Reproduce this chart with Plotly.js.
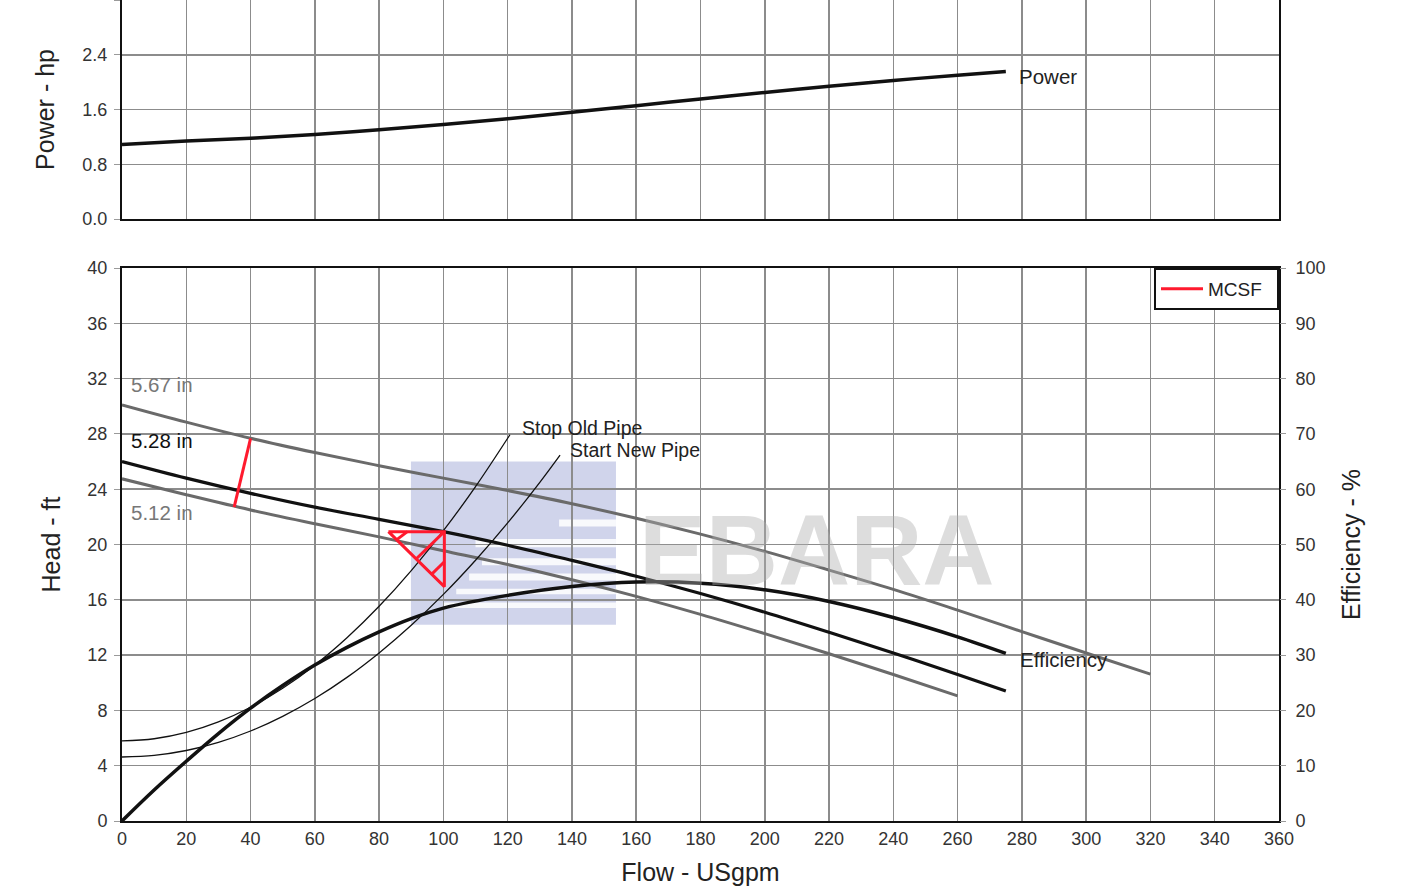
<!DOCTYPE html>
<html>
<head>
<meta charset="utf-8">
<script src="https://cdn.plot.ly/plotly-3.0.1.min.js"></script>
<style>html,body{margin:0;padding:0;background:#fff;}#chart{width:1411px;height:895px;}</style>
</head>
<body>
<div id="chart"></div>
<script>
// ---- data ----
const flow567 = [0,20,40,60,80,100,120,140,160,180,200,220,240,260,280,300,320];
const head567 = [30.1,28.85,27.68,26.65,25.7,24.8,23.9,22.95,21.9,20.75,19.5,18.15,16.75,15.25,13.7,12.15,10.62];

const flow528 = [0,20,40,60,80,100,120,140,160,180,200,220,240,260,275];
const head528 = [26.0,24.8,23.7,22.7,21.82,20.93,19.95,18.85,17.7,16.45,15.1,13.65,12.15,10.6,9.4];

const flow512 = [0,20,40,60,80,100,120,140,160,180,200,220,240,260];
const head512 = [24.75,23.6,22.5,21.5,20.55,19.55,18.55,17.45,16.25,14.95,13.55,12.1,10.6,9.05];

const flowEff = [0,10,20,30,40,50,60,70,80,90,100,120,140,160,180,200,220,240,260,275];
const effPct  = [0,5.6,10.8,15.8,20.4,24.5,28.2,31.4,34.2,36.6,38.5,40.8,42.4,43.2,43.0,41.8,39.7,36.8,33.3,30.3];

const flowPow = [0,20,40,60,80,100,120,140,160,180,200,220,240,260,275];
const powerHp = [1.09,1.14,1.18,1.235,1.305,1.38,1.465,1.56,1.655,1.755,1.85,1.94,2.025,2.10,2.155];

const flowStopOld = [0,10,20,30,40,50,60,70,80,90,100,110,120.7];
const headStopOld = [5.8,5.95,6.41,7.17,8.23,9.6,11.27,13.25,15.53,18.11,21.0,24.19,27.94];

const flowStartNew = [0,10,20,30,40,50,60,70,80,90,100,110,120,130,136.3];
const headStartNew = [4.63,4.75,5.1,5.69,6.51,7.57,8.86,10.39,12.16,14.16,16.39,18.86,21.56,24.5,26.47];

// MCSF marks (segments separated by null)
const mcsfFlow = [34.9,40,null, 82.9,100.3,100.3,82.9,null, 85.5,88.8,null, 91.5,100.3,null, 96.3,100.3];
const mcsfHead = [22.7,27.68,null, 20.93,20.93,16.95,20.93,null, 20.35,20.93,null, 18.95,20.93,null, 17.84,18.75];

const flowTicks = [0,20,40,60,80,100,120,140,160,180,200,220,240,260,280,300,320,340,360];

// ---- styles ----
const GRAY = '#6a6a6a', BLACK = '#111111', RED = '#ff1a2e';
const FONT = 'Liberation Sans, Arial, Helvetica, sans-serif';

const traces = [
  {x: flow567, y: head567, xaxis:'x', yaxis:'y', mode:'lines', line:{color:GRAY, width:3, shape:'spline'}, showlegend:false, name:'5.67 in'},
  {x: flow528, y: head528, xaxis:'x', yaxis:'y', mode:'lines', line:{color:BLACK, width:3.2, shape:'spline'}, showlegend:false, name:'5.28 in'},
  {x: flow512, y: head512, xaxis:'x', yaxis:'y', mode:'lines', line:{color:GRAY, width:3, shape:'spline'}, showlegend:false, name:'5.12 in'},
  {x: flowStopOld, y: headStopOld, xaxis:'x', yaxis:'y', mode:'lines', line:{color:BLACK, width:1.3, shape:'spline'}, showlegend:false, name:'Stop Old Pipe'},
  {x: flowStartNew, y: headStartNew, xaxis:'x', yaxis:'y', mode:'lines', line:{color:BLACK, width:1.3, shape:'spline'}, showlegend:false, name:'Start New Pipe'},
  {x: flowEff, y: effPct, xaxis:'x', yaxis:'y3', mode:'lines', line:{color:BLACK, width:3.5, shape:'spline'}, showlegend:false, name:'Efficiency'},
  {x: flowPow, y: powerHp, xaxis:'x2', yaxis:'y2', mode:'lines', line:{color:BLACK, width:3.5, shape:'spline'}, showlegend:false, name:'Power'},
  {x: mcsfFlow, y: mcsfHead, xaxis:'x', yaxis:'y', mode:'lines', line:{color:RED, width:3}, connectgaps:false, showlegend:true, name:'MCSF'}
];

const gridCommon = {showgrid:true, gridcolor:'#8c8c8c', gridwidth:1.5, zeroline:false,
  showline:true, linecolor:BLACK, linewidth:2, mirror:true,
  ticks:'outside', ticklen:6, tickcolor:'#9a9a9a', tickwidth:1,
  tickfont:{size:18, color:'#333', family:FONT}};

const botTop = 553/821;
const topBot = 602/821;

const layout = {
  width:1411, height:895,
  margin:{l:122, r:132, t:0, b:74, pad:0},
  paper_bgcolor:'#ffffff', plot_bgcolor:'#ffffff',
  font:{family:FONT, color:'#222'},
  showlegend:true,
  legend:{x:1, xanchor:'right', y:botTop, yanchor:'top', bgcolor:'#ffffff', bordercolor:BLACK, borderwidth:2,
          orientation:'h', itemwidth:42, entrywidth:64, entrywidthmode:'pixels',
          font:{size:19, color:'#222', family:FONT}},
  xaxis: Object.assign({}, gridCommon, {domain:[0,1], anchor:'y', range:[0,360], tickvals:flowTicks, ticks:'',
          title:{text:'Flow - USgpm', font:{size:25, color:'#222', family:FONT}, standoff:16}}),
  yaxis: Object.assign({}, gridCommon, {domain:[0,botTop], anchor:'x', range:[0,40], dtick:4, tick0:0, ticklabelstandoff:3,
          title:{text:'Head - ft', font:{size:25, color:'#222', family:FONT}, standoff:20}}),
  xaxis2: Object.assign({}, gridCommon, {domain:[0,1], anchor:'y2', range:[0,360], tickvals:flowTicks, showticklabels:false, ticks:''}),
  yaxis2: Object.assign({}, gridCommon, {domain:[topBot,1], anchor:'x2', range:[0,3.2], dtick:0.8, tick0:0, tickformat:'.1f', ticklabelstandoff:3,
          title:{text:'Power - hp', font:{size:25, color:'#222', family:FONT}, standoff:21}}),
  yaxis3: {overlaying:'y', side:'right', anchor:'x', range:[0,100], dtick:10, tick0:0, showgrid:false, zeroline:false,
          showline:false, ticks:'outside', ticklen:6, tickcolor:'#9a9a9a', ticklabelstandoff:6,
          tickfont:{size:18, color:'#333', family:FONT},
          title:{text:'Efficiency - %', font:{size:25, color:'#222', family:FONT}, standoff:17}},
  shapes: [
    // EBARA watermark logo (decorative)
    {type:'rect', xref:'x', yref:'y', x0:89.9, x1:153.7, y0:14.2, y1:26.0, fillcolor:'rgba(150,160,210,0.45)', line:{width:0}, layer:'below'},
    {type:'rect', xref:'x', yref:'y', x0:136, x1:153.7, y0:21.3, y1:21.8, fillcolor:'rgba(255,255,255,0.85)', line:{width:0}, layer:'below'},
    {type:'rect', xref:'x', yref:'y', x0:110, x1:153.7, y0:19.8, y1:20.4, fillcolor:'rgba(255,255,255,0.85)', line:{width:0}, layer:'below'},
    {type:'rect', xref:'x', yref:'y', x0:112, x1:153.7, y0:18.5, y1:19.0, fillcolor:'rgba(255,255,255,0.85)', line:{width:0}, layer:'below'},
    {type:'rect', xref:'x', yref:'y', x0:108, x1:153.7, y0:17.4, y1:17.9, fillcolor:'rgba(255,255,255,0.85)', line:{width:0}, layer:'below'},
    {type:'rect', xref:'x', yref:'y', x0:104, x1:153.7, y0:16.4, y1:16.8, fillcolor:'rgba(255,255,255,0.85)', line:{width:0}, layer:'below'},
    {type:'rect', xref:'x', yref:'y', x0:100, x1:153.7, y0:15.4, y1:15.8, fillcolor:'rgba(255,255,255,0.85)', line:{width:0}, layer:'below'}
  ],
  annotations: [
    {xref:'x', yref:'y', x:216.4, y:19.6, text:'<b>EBARA</b>', showarrow:false, font:{size:100, color:'rgba(175,175,175,0.42)', family:FONT}, xanchor:'center', yanchor:'middle'},
    {xref:'x', yref:'y', x:2.2, y:31.54, text:'5.67 in', showarrow:false, xanchor:'left', yanchor:'middle', font:{size:20.5, color:'#777'}},
    {xref:'x', yref:'y', x:2.2, y:27.49, text:'5.28 in', showarrow:false, xanchor:'left', yanchor:'middle', font:{size:20.5, color:'#111'}},
    {xref:'x', yref:'y', x:2.2, y:22.35, text:'5.12 in', showarrow:false, xanchor:'left', yanchor:'middle', font:{size:20.5, color:'#777'}},
    {xref:'x', yref:'y', x:124.2, y:28.42, text:'Stop Old Pipe', showarrow:false, xanchor:'left', yanchor:'middle', borderpad:0, font:{size:19.5, color:'#222'}},
    {xref:'x', yref:'y', x:139.1, y:26.85, text:'Start New Pipe', showarrow:false, xanchor:'left', yanchor:'middle', borderpad:0, font:{size:19.5, color:'#222'}},
    {xref:'x', yref:'y', x:278.8, y:11.65, text:'Efficiency', showarrow:false, xanchor:'left', yanchor:'middle', font:{size:20.5, color:'#222'}},
    {xref:'x2', yref:'y2', x:278.5, y:2.076, text:'Power', showarrow:false, xanchor:'left', yanchor:'middle', font:{size:20.5, color:'#222'}}
  ]
};

Plotly.newPlot('chart', traces, layout, {displayModeBar:false, staticPlot:true});
</script>
</body>
</html>
